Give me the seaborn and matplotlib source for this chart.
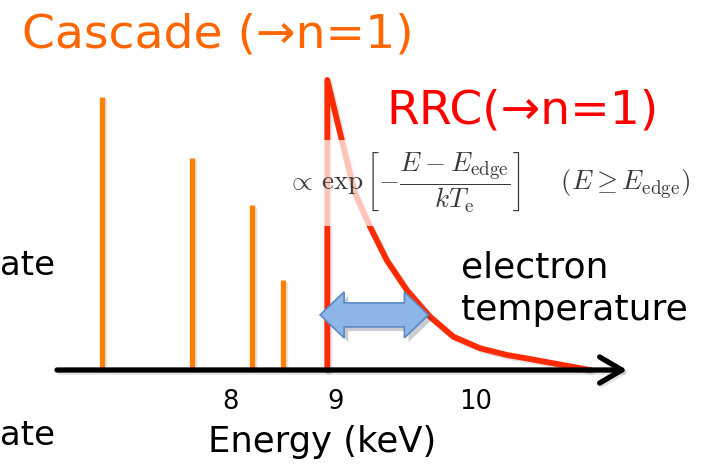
import numpy as np
import matplotlib
matplotlib.use("Agg")
import matplotlib.pyplot as plt
import matplotlib.patheffects as pe
from matplotlib.patches import Polygon
from matplotlib.transforms import IdentityTransform
import seaborn as sns

# Cascade emission lines (keV) and their relative strengths
cascade_energy = [6.79, 7.64, 8.21, 8.50]
cascade_height = [0.94, 0.73, 0.57, 0.31]

# Radiative recombination continuum: edge and exponential tail
rrc_edge = 8.918
rrc_energy = [8.918, 9.041, 9.136, 9.243, 9.362, 9.505, 9.671, 9.838,
              10.029, 10.219, 10.362, 10.814]
rrc_height = [1.0, 0.793, 0.609, 0.494, 0.379, 0.276, 0.184, 0.115,
              0.075, 0.052, 0.040, 0.0]

tick_energy = [8, 9, 10]
tick_labels = ["8", "9", "10"]

# span of the kT_e arrow (keV) and its height
kt_span = [8.85, 9.66]
kt_level = 0.19

sns.set_theme(style="white")
plt.rcParams["font.family"] = ["DejaVu Sans", "Noto Sans CJK JP"]
plt.rcParams["mathtext.fontset"] = "cm"

W, H = 720, 469
fig = plt.figure(figsize=(W / 100, H / 100), dpi=100)
fig.patch.set_facecolor("white")
base_px = 370
ax = fig.add_axes([0, (H - base_px) / H, 1, base_px / H])
ax.set_facecolor("none")

# hand-drawn energy axis: piecewise linear spacing between the labelled keV marks
knot_e = np.array([0.0, 8.0, 9.0, 10.0, 20.0])
knot_u = np.array([-848.0, 0.0, 106.0, 246.0, 1646.0])
ax.set_xscale("function",
              functions=(lambda e: np.interp(e, knot_e, knot_u),
                         lambda u: np.interp(u, knot_u, knot_e)))
ax.set_xlim(8 - 230 / 106, 10 + 244 / 140)
ax.set_ylim(0, base_px / 290)

shadow = [pe.SimpleLineShadow(offset=(1.5, -1.5), shadow_color="k", alpha=0.12), pe.Normal()]

# cascade lines
ax.vlines(cascade_energy, 0, cascade_height, color="#FF8000", lw=3.8,
          clip_on=False, zorder=3, path_effects=shadow)

# RRC: sharp edge followed by the exponential tail
sns.lineplot(x=[rrc_edge] + rrc_energy, y=[0.0] + rrc_height, ax=ax,
             sort=False, estimator=None, color="#FF2A00", lw=4.2,
             zorder=4, legend=False)
for ln in ax.lines:
    ln.set_clip_on(False)
    ln.set_path_effects(shadow)

# energy axis with open arrow head
ax.annotate("", xy=(11.079, 0), xytext=(6.368, 0), annotation_clip=False,
            arrowprops=dict(arrowstyle="->,head_length=0.8,head_width=0.47",
                            mutation_scale=20, lw=3.8, color="black",
                            shrinkA=0, shrinkB=0,
                            path_effects=shadow),
            zorder=7)

# formula on a translucent white panel
ax.text(8.538, 0.645,
        r"$\propto\,\exp\left[-\dfrac{E-E_{\rm edge}}{kT_{\rm e}}\right]\quad\;\;(E\geq E_{\rm edge})$",
        fontsize=19.5, color="#3a3a3a", ha="left", va="center", zorder=8,
        bbox=dict(boxstyle="square,pad=0.4", fc="white", ec="none", alpha=0.72))

# double-headed arrow marking kT_e
fig.canvas.draw()
(xl, yc), (xr, _) = ax.transData.transform([[kt_span[0], kt_level], [kt_span[1], kt_level]])
hs, hh, hl = 12, 23, 24
verts = [(xl, yc), (xl + hl, yc + hh), (xl + hl, yc + hs), (xr - hl, yc + hs),
         (xr - hl, yc + hh), (xr, yc), (xr - hl, yc - hh), (xr - hl, yc - hs),
         (xl + hl, yc - hs), (xl + hl, yc - hh)]
arrow = Polygon(verts, closed=True, transform=IdentityTransform(),
                fc="#8DB5E8", ec="#5A89C4", lw=1.2, zorder=9,
                path_effects=[pe.withSimplePatchShadow(offset=(3, -3), alpha=0.25)])
fig.add_artist(arrow)

# ticks and labels
ax.set_xticks(tick_energy, tick_labels)
ax.set_yticks([])
ax.tick_params(axis="x", length=0, pad=14, labelsize=18.5, labelcolor="black")
sns.despine(ax=ax, left=True, bottom=True)
ax.set_xlabel("Energy (keV)", fontsize=25.5, color="black")
ax.xaxis.label.set(ha="left", va="baseline")
ax.xaxis.set_label_coords(208 / W, -(452 - base_px) / base_px)


def ftext(x, y, s, **kw):
    fig.text(x / W, 1 - y / H, s, va="baseline", ha="left", **kw)


ftext(22, 48, "Cascade (→n=1)", fontsize=34, color="#FF6600")
ftext(386, 123, "RRC(→n=1)", fontsize=34, color="#FF0000")
ftext(461, 277, "electron", fontsize=26, color="black")
ftext(461, 320, "temperature", fontsize=26, color="black")
ftext(0, 275, "ate", fontsize=24.5, color="black")
ftext(0, 445, "ate", fontsize=24.5, color="black")

fig.savefig("out.png", dpi=100, facecolor="white")
